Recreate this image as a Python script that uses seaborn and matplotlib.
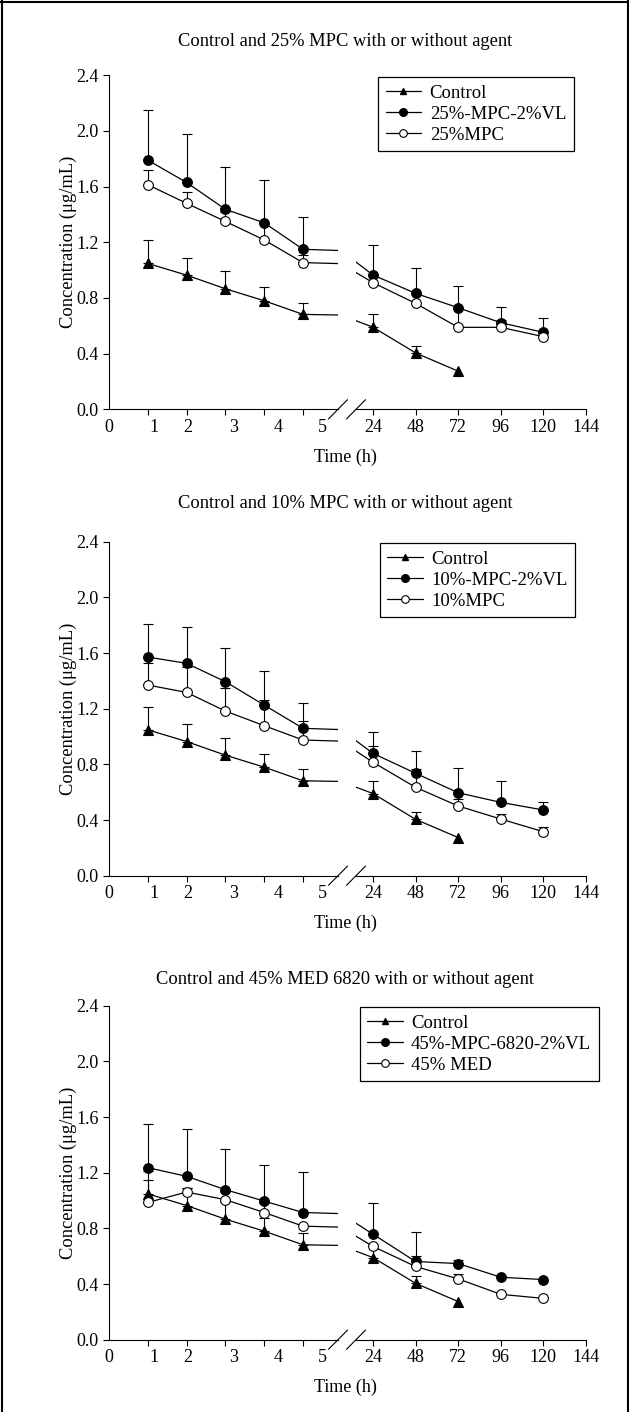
import numpy as np
import pandas as pd
import seaborn as sns
import matplotlib.pyplot as plt
from matplotlib.lines import Line2D

# data (mean and top of the upper error bar, ug/mL)
times = [1, 2, 3, 4, 5, 24, 48, 72, 96, 120]
control_times = [1, 2, 3, 4, 5, 24, 48, 72]
control_mean = [1.048, 0.964, 0.866, 0.780, 0.682, 0.590, 0.405, 0.274]
control_top = [1.214, 1.087, 0.992, 0.878, 0.766, 0.682, 0.455, np.nan]

vl25_mean = [1.79, 1.63, 1.437, 1.34, 1.15, 0.965, 0.833, 0.73, 0.622, 0.553]
vl25_top = [2.15, 1.98, 1.74, 1.65, 1.38, 1.18, 1.015, 0.888, 0.735, 0.655]
mpc25_mean = [1.614, 1.48, 1.35, 1.217, 1.054, 0.91, 0.761, 0.589, 0.589, 0.522]
mpc25_top = [1.72, 1.56, 1.42, 1.33, 1.106, np.nan, np.nan, 0.72, 0.64, np.nan]

vl10_mean = [1.571, 1.526, 1.394, 1.226, 1.059, 0.879, 0.736, 0.596, 0.527, 0.472]
vl10_top = [1.806, 1.787, 1.634, 1.473, 1.243, 1.03, 0.898, 0.771, 0.68, 0.527]
mpc10_mean = [1.37, 1.317, 1.183, 1.078, 0.975, 0.815, 0.635, 0.501, 0.407, 0.316]
mpc10_top = [1.53, 1.50, 1.35, 1.264, 1.111, 0.934, 0.764, 0.553, 0.445, 0.348]

vl45_mean = [1.236, 1.174, 1.078, 0.996, 0.914, 0.758, 0.562, 0.547, 0.449, 0.432]
vl45_top = [1.548, 1.512, 1.373, 1.253, 1.205, 0.979, 0.773, 0.576, np.nan, np.nan]
med45_mean = [0.986, 1.061, 1.006, 0.914, 0.816, 0.67, 0.526, 0.437, 0.326, 0.297]
med45_top = [1.15, 1.09, 1.06, 0.98, np.nan, np.nan, 0.598, 0.47, np.nan, np.nan]

titles = ["Control and 25% MPC with or without agent",
          "Control and 10% MPC with or without agent",
          "Control and 45% MED 6820 with or without agent"]
legend_labels = [["Control", "25%-MPC-2%VL", "25%MPC"],
                 ["Control", "10%-MPC-2%VL", "10%MPC"],
                 ["Control", "45%-MPC-6820-2%VL", "45% MED"]]
agent_series = [(vl25_mean, vl25_top), (vl10_mean, vl10_top), (vl45_mean, vl45_top)]
plain_series = [(mpc25_mean, mpc25_top), (mpc10_mean, mpc10_top), (med45_mean, med45_top)]

left_ticks = [0, 1, 2, 3, 4, 5]
left_tick_labels = ["0", "1", "2", "3", "4", "5"]
right_ticks = [24, 48, 72, 96, 120, 144]
y_ticks = [0.0, 0.4, 0.8, 1.2, 1.6, 2.0, 2.4]

sns.set_style("ticks", rc={"axes.edgecolor": "black", "xtick.color": "black",
                           "ytick.color": "black", "text.color": "black",
                           "axes.labelcolor": "black"})
plt.rcParams['font.family'] = ['Liberation Serif', 'DejaVu Serif']

W, H = 629, 1412
fig = plt.figure(figsize=(W / 100, H / 100), dpi=100)

# layout in pixels
axis_top = [75.3, 541.7, 1005.7]
axis_h = 334.0
left_x0, left_x1 = 109, 338
right_x0, right_x1 = 356, 586
left_label_pos = [0.0, 1.15, 2.02, 3.2, 4.36, 5.49]
legend_corner = [(573.7, 77.3), (575.3, 543.3), (598.7, 1007.3)]
title_y = [42, 503, 980]

FS = 13


def draw_series(ax, x, mean, top, marker, face):
    df = pd.DataFrame({'time': x, 'conc': mean})
    sns.lineplot(data=df, x='time', y='conc', ax=ax, color='black', lw=0.9,
                 marker=marker, markersize=7, markerfacecolor=face,
                 markeredgecolor='black', markeredgewidth=0.8,
                 errorbar=None, legend=False, zorder=3)
    x = np.asarray(x, float)
    mean = np.asarray(mean, float)
    top = np.asarray(top, float)
    ok = np.isfinite(top)
    up = top[ok] - mean[ok]
    ax.errorbar(x[ok], mean[ok], yerr=[np.zeros_like(up), up], fmt='none',
                ecolor='black', elinewidth=0.8, capsize=3.4, capthick=0.8, zorder=2)


for i in range(3):
    bottom = 1 - (axis_top[i] + axis_h) / H
    h = axis_h / H
    axl = fig.add_axes([left_x0 / W, bottom, (left_x1 - left_x0) / W, h])
    axr = fig.add_axes([right_x0 / W, bottom, (right_x1 - right_x0) / W, h])

    for ax in (axl, axr):
        draw_series(ax, control_times, control_mean, control_top, '^', 'black')
        draw_series(ax, times, agent_series[i][0], agent_series[i][1], 'o', 'black')
        draw_series(ax, times, plain_series[i][0], plain_series[i][1], 'o', 'white')
        ax.set_ylim(0, 2.4)
        ax.set_xlabel('')
        ax.set_ylabel('')
        ax.spines['top'].set_visible(False)
        ax.spines['right'].set_visible(False)
        ax.spines['bottom'].set_linewidth(0.8)
        ax.spines['left'].set_linewidth(0.8)

    axl.set_xlim(0, (left_x1 - left_x0) / 38.8)
    axl.set_yticks(y_ticks)
    axl.set_yticklabels([f"{v:.1f}" for v in y_ticks])
    axl.tick_params(axis='y', direction='out', length=4.5, width=0.8, pad=3, labelsize=FS)
    axl.set_xticks(left_ticks, minor=True)
    axl.set_xticks(left_label_pos)
    axl.set_xticklabels(left_tick_labels)
    axl.tick_params(axis='x', which='minor', direction='out', length=4, width=0.8)
    axl.tick_params(axis='x', which='major', length=0, pad=7, labelsize=FS)

    axr.set_xlim(24 - (373 - right_x0) / 42.6 * 24, 144)
    axr.set_xticks(right_ticks)
    axr.set_xticklabels([str(t) for t in right_ticks])
    axr.tick_params(axis='x', direction='out', length=4, width=0.8, pad=3, labelsize=FS)
    axr.spines['left'].set_visible(False)
    axr.set_yticks([])

    # break marks
    dxl = 9.5 / (left_x1 - left_x0)
    dxr = 9.5 / (right_x1 - right_x0)
    dy = 9.6 / axis_h
    axl.plot([1 - dxl, 1 + dxl], [-dy, dy], transform=axl.transAxes,
             color='black', lw=0.8, clip_on=False)
    axr.plot([-dxr, dxr], [-dy, dy], transform=axr.transAxes,
             color='black', lw=0.8, clip_on=False)

    handles = [Line2D([], [], color='black', lw=0.9, marker='^', markersize=5,
                      mfc='black', mec='black'),
               Line2D([], [], color='black', lw=0.9, marker='o', markersize=5.5,
                      mfc='black', mec='black'),
               Line2D([], [], color='black', lw=0.9, marker='o', markersize=5.5,
                      mfc='white', mec='black', mew=0.8)]
    cx, cy = legend_corner[i]
    leg = axr.legend(handles, legend_labels[i], loc='upper right',
                     bbox_to_anchor=(cx / W, 1 - cy / H), bbox_transform=fig.transFigure,
                     fontsize=13.5, frameon=True, fancybox=False, framealpha=1,
                     edgecolor='black', handlelength=1.9, handletextpad=0.45,
                     labelspacing=0.2, borderpad=0.4, borderaxespad=0)
    leg.get_frame().set_linewidth(0.9)

    fig.text(345 / W, 1 - title_y[i] / H, titles[i], ha='center', va='center', fontsize=13.3)
    fig.text(345 / W, 1 - (axis_top[i] + axis_h + 48) / H, "Time (h)",
             ha='center', va='center', fontsize=13)
    fig.text(68 / W, 1 - (axis_top[i] + axis_h / 2) / H, "Concentration (μg/mL)",
             ha='center', va='center', rotation=90, fontsize=13.3)

# frame round the figure
for xs, ys in [([1.5, 1.5], [0, H]), ([0, W], [1.5, 1.5]), ([W - 1.5, W - 1.5], [0, H])]:
    fig.add_artist(Line2D([x / W for x in xs], [1 - y / H for y in ys],
                          transform=fig.transFigure, color='black', lw=1.5))

fig.savefig('out.png', dpi=100)
